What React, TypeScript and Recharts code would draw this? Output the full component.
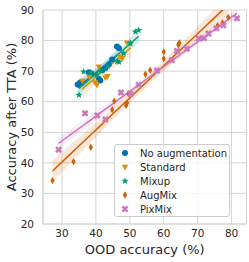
import { ComposedChart, Scatter, Line, Area, XAxis, YAxis, CartesianGrid, ReferenceLine } from 'recharts';

// OOD accuracy (%) vs accuracy after TTA (%)
const noAugmentation = [
  [34.6, 65.6], [35.4, 66.3], [37.9, 69.6], [38.6, 69.2], [40.9, 67.4], [41.3, 66.9],
  [41.9, 70.3], [42.8, 71.0], [43.8, 72.2], [44.8, 73.8], [46.2, 78.1], [46.8, 77.5],
];
const standard = [
  [36.0, 66.8], [38.1, 68.1], [39.7, 66.3], [40.3, 65.5], [40.9, 71.4], [42.8, 67.8],
  [43.4, 68.3], [47.2, 74.7], [47.8, 74.2], [49.2, 79.3], [50.2, 79.1],
];
const mixup = [
  [35.0, 62.2], [36.4, 69.8], [38.5, 69.5], [40.2, 68.8], [41.5, 70.1], [43.5, 71.6],
  [46.3, 73.2], [46.8, 73.0], [48.2, 75.8], [50.2, 79.1], [51.6, 82.9], [52.6, 83.4],
];
const augMix = [
  [27.2, 34.2], [33.4, 40.4], [38.5, 45.1], [44.8, 57.4], [45.4, 60.2], [48.9, 58.8],
  [49.2, 59.6], [49.6, 62.6], [54.6, 69.0], [56.0, 70.3], [60.0, 74.1], [60.0, 76.3],
  [64.3, 78.6], [64.6, 79.3], [75.9, 84.9], [77.3, 85.8], [79.0, 87.6],
];
const pixMix = [
  [29.0, 44.3], [36.8, 56.2], [40.4, 55.5], [42.8, 54.2], [47.4, 63.0], [50.2, 62.6],
  [52.6, 65.5], [58.0, 70.2], [62.4, 73.6], [63.9, 76.6], [66.8, 77.3], [70.3, 80.7],
  [71.8, 80.8], [73.2, 82.3], [75.5, 84.0], [77.6, 85.0], [81.6, 87.3],
];

const xTicks = [30, 40, 50, 60, 70, 80];
const yTicks = [20, 30, 40, 50, 60, 70, 80, 90];

const font = 'DejaVu Sans, sans-serif';
const ink = '#262626';
const gridColor = '#d4d4d4';

// simple least squares fit + confidence band, like seaborn regplot
function regress(pts: number[][]) {
  const n = pts.length;
  const mx = pts.reduce((s, p) => s + p[0], 0) / n;
  const my = pts.reduce((s, p) => s + p[1], 0) / n;
  let sxx = 0;
  let sxy = 0;
  pts.forEach(([x, y]) => {
    sxx += (x - mx) * (x - mx);
    sxy += (x - mx) * (y - my);
  });
  const b = sxy / sxx;
  const a = my - b * mx;
  let rss = 0;
  pts.forEach(([x, y]) => {
    rss += (y - a - b * x) ** 2;
  });
  const s2 = rss / (n - 2);
  const xs = pts.map((p) => p[0]);
  const lo = Math.min(...xs);
  const hi = Math.max(...xs);
  const steps = 30;
  const band = [];
  for (let i = 0; i <= steps; i++) {
    const x = lo + ((hi - lo) * i) / steps;
    const yh = a + b * x;
    const se = Math.sqrt(s2 * (1 / n + ((x - mx) * (x - mx)) / sxx));
    band.push({ x, y: yh, band: [yh - 2.1 * se, yh + 2.1 * se] });
  }
  return band;
}

const toPoints = (pts: number[][]) => pts.map(([x, y]) => ({ x, y }));

type ShapeProps = { cx?: number; cy?: number; fill?: string };

const Circle = ({ cx = 0, cy = 0, fill }: ShapeProps) => <circle cx={cx} cy={cy} r={3} fill={fill} />;
const TriDown = ({ cx = 0, cy = 0, fill }: ShapeProps) => (
  <polygon points={`${cx - 3.3},${cy - 2.3} ${cx + 3.3},${cy - 2.3} ${cx},${cy + 3.4}`} fill={fill} />
);
const Star = ({ cx = 0, cy = 0, fill }: ShapeProps) => {
  const pts = [];
  for (let i = 0; i < 10; i++) {
    const r = i % 2 === 0 ? 3.8 : 1.6;
    const ang = -Math.PI / 2 + (i * Math.PI) / 5;
    pts.push(`${cx + r * Math.cos(ang)},${cy + r * Math.sin(ang)}`);
  }
  return <polygon points={pts.join(' ')} fill={fill} />;
};
const ThinDiamond = ({ cx = 0, cy = 0, fill }: ShapeProps) => (
  <polygon points={`${cx},${cy - 3.7} ${cx + 2.1},${cy} ${cx},${cy + 3.7} ${cx - 2.1},${cy}`} fill={fill} />
);
const Cross = ({ cx = 0, cy = 0, fill }: ShapeProps) => (
  <g transform={`translate(${cx},${cy}) rotate(45)`} fill={fill}>
    <rect x={-3.6} y={-1.3} width={7.2} height={2.6} />
    <rect x={-1.3} y={-3.6} width={2.6} height={7.2} />
  </g>
);

const series = [
  { name: 'No augmentation', data: noAugmentation, color: '#0173b2', shape: Circle },
  { name: 'Standard', data: standard, color: '#de8f05', shape: TriDown },
  { name: 'Mixup', data: mixup, color: '#029e73', shape: Star },
  { name: 'AugMix', data: augMix, color: '#d55e00', shape: ThinDiamond },
  { name: 'PixMix', data: pixMix, color: '#cc78bc', shape: Cross },
];

export default function App() {
  const fits = series.map((s) => regress(s.data));
  return (
    <div style={{ position: 'absolute', left: 0, top: 0, width: 249, height: 262, fontFamily: font }}>
      <ComposedChart width={249} height={262} margin={{ top: 10, right: 2.5, left: 0, bottom: 0 }}>
        <CartesianGrid stroke={gridColor} strokeWidth={1} />
        <XAxis
          type='number'
          dataKey='x'
          domain={[24.4, 84.4]}
          ticks={xTicks}
          allowDataOverflow
          height={38}
          tickLine={false}
          tickMargin={0}
          axisLine={{ stroke: gridColor }}
          tick={{ fill: ink, fontSize: 10.5, fontFamily: font }}
          label={{ value: 'OOD accuracy (%)', position: 'insideBottom', offset: 8.5, fill: ink, fontSize: 13, fontFamily: font }}
        />
        <YAxis
          type='number'
          dataKey='y'
          domain={[20, 90]}
          ticks={yTicks}
          allowDataOverflow
          width={43}
          tickLine={false}
          tickMargin={3}
          axisLine={{ stroke: gridColor }}
          tick={{ fill: ink, fontSize: 10.5, fontFamily: font }}
          label={{
            value: 'Accuracy after TTA (%)',
            angle: -90,
            position: 'insideLeft',
            offset: 11,
            fill: ink,
            fontSize: 13,
            fontFamily: font,
            style: { textAnchor: 'middle' },
          }}
        />
        <ReferenceLine x={84.4} stroke={gridColor} ifOverflow='extendDomain' />
        {series.map((s, i) => (
          <Area
            key={'band' + s.name}
            data={fits[i]}
            dataKey='band'
            stroke='none'
            fill={s.color}
            fillOpacity={0.15}
            isAnimationActive={false}
            activeDot={false}
          />
        ))}
        {series.map((s) => (
          <Scatter
            key={'pts' + s.name}
            data={toPoints(s.data)}
            fill={s.color}
            shape={s.shape}
            isAnimationActive={false}
          />
        ))}
        {series.map((s, i) => (
          <Line
            key={'fit' + s.name}
            data={fits[i]}
            dataKey='y'
            stroke={s.color}
            strokeWidth={1.5}
            dot={false}
            activeDot={false}
            isAnimationActive={false}
          />
        ))}
      </ComposedChart>
      <div
        style={{
          position: 'absolute',
          left: 114,
          top: 144,
          width: 116,
          height: 73,
          boxSizing: 'border-box',
          border: '1px solid #cccccc',
          borderRadius: 3,
          background: 'rgba(255,255,255,0.8)',
        }}
      >
        {series.map((s, i) => {
          const Shape = s.shape;
          return (
            <div
              key={s.name}
              style={{ position: 'absolute', left: 4, top: 1 + i * 14, height: 14, display: 'flex', alignItems: 'center' }}
            >
              <svg width={12} height={12}>
                <Shape cx={6} cy={6} fill={s.color} />
              </svg>
              <span style={{ marginLeft: 9, fontSize: 10, color: ink, fontFamily: font, whiteSpace: 'nowrap' }}>{s.name}</span>
            </div>
          );
        })}
      </div>
    </div>
  );
}
